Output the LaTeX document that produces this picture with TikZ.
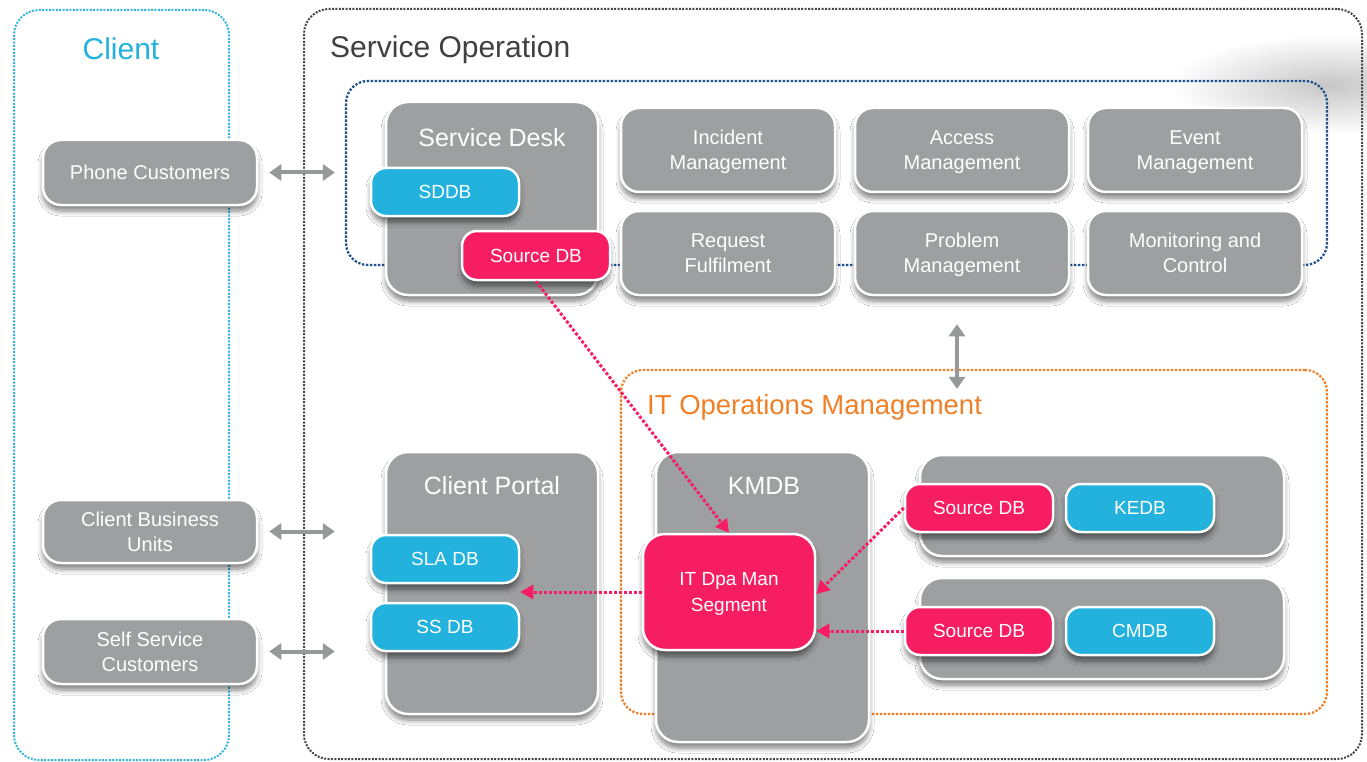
\documentclass[tikz,border=0pt]{standalone}
\usepackage{fontspec}
\setmainfont{Liberation Sans}
\usetikzlibrary{arrows.meta,shadows.blur}
\definecolor{boxgray}{RGB}{157,159,160}
\definecolor{dbcyan}{RGB}{35,178,221}
\definecolor{dbpink}{RGB}{246,29,98}
\definecolor{orangeframe}{RGB}{240,128,40}
\definecolor{blueframe}{RGB}{30,80,140}
\definecolor{grayframe}{RGB}{70,70,70}
\definecolor{cyanframe}{RGB}{50,182,222}
\definecolor{titlegray}{RGB}{64,64,64}
\definecolor{arrgray}{RGB}{150,152,153}
\begin{document}
\begin{tikzpicture}[x=1pt,y=-1pt,
 box/.style={rounded corners=18pt, draw=white, line width=2.5pt,
   blur shadow={shadow xshift=0pt,shadow yshift=-6pt,shadow opacity=50,shadow blur radius=5pt,shadow blur steps=8},
   text=white, align=center, inner sep=0pt, text depth=0pt},
 gbox/.style={box, fill=boxgray, font=\fontsize{20}{25}\selectfont, minimum width=214pt, minimum height=84pt},
 dbbox/.style={box, rounded corners=15pt, font=\fontsize{19}{23}\selectfont, minimum width=148pt, minimum height=48pt},
 cdb/.style={dbbox, fill=dbcyan},
 pdb/.style={dbbox, fill=dbpink},
 cont/.style={box, fill=boxgray, rounded corners=22pt},
 ctitle/.style={text=white, font=\fontsize{25}{30}\selectfont, inner sep=0pt},
 grpframe/.style={rounded corners=25pt, line width=2pt, dash pattern=on 2pt off 1.4pt, inner sep=0pt},
 garrow/.style={draw=arrgray, line width=4pt, {Triangle[length=12pt,width=16pt]}-{Triangle[length=12pt,width=16pt]}},
 parrow/.style={draw=dbpink, line width=3pt, dash pattern=on 3pt off 2pt, -{Triangle[length=13pt,width=14pt]}},
]
\useasboundingbox[fill=white] (0,0) rectangle (1367,762);

% soft gray haze at top right
\shade[inner color=black!22, outer color=white] (1330,85) ellipse [x radius=160pt, y radius=50pt];

% frames
\node[grpframe, draw=cyanframe, minimum width=215pt, minimum height=750pt] (client) at (121.5,385) {};
\node[grpframe, draw=grayframe, minimum width=1058pt, minimum height=750pt] (serviceop) at (833,384) {};
\node[grpframe, draw=blueframe, line width=2.3pt, dash pattern=on 2.3pt off 1.7pt, minimum width=981pt, minimum height=184pt, rounded corners=22pt] (blue) at (836.5,173) {};
\node[grpframe, draw=orangeframe, line width=2.3pt, dash pattern=on 2.3pt off 1.7pt, minimum width=706pt, minimum height=344pt, rounded corners=22pt] (itom) at (974,542) {};

% titles
\node[text=dbcyan, font=\fontsize{30}{36}\selectfont, inner sep=0pt] (clienttitle) at (121,49) {Client};
\node[text=titlegray, font=\fontsize{30}{36}\selectfont, inner sep=0pt, anchor=west] (sotitle) at (330,50) {Service Operation};
\node[text=orangeframe, font=\fontsize{27.5}{33}\selectfont, inner sep=0pt, anchor=west] (itomtitle) at (647,407) {IT Operations Management};

% client side
\node[gbox, minimum height=65pt] (phone) at (150,172.5) {Phone Customers};
\node[gbox, minimum height=63pt] (cbu) at (150,531.5) {Client Business\\Units};
\node[gbox, minimum height=65pt] (ssc) at (150,651.5) {Self Service\\Customers};

% service desk
\node[cont, minimum width=212pt, minimum height=193pt] (desk) at (492,198.5) {};
\node[ctitle] (desktitle) at (492,138) {Service Desk};
\node[cdb] (sddb) at (445,192) {SDDB};
\node[pdb, minimum height=49pt] (srcA) at (536,255.5) {Source DB};

% processes
\node[gbox] (incident) at (728,150) {Incident\\Management};
\node[gbox] (access) at (962,150) {Access\\Management};
\node[gbox] (event) at (1195,150) {Event\\Management};
\node[gbox] (request) at (728,253) {Request\\Fulfilment};
\node[gbox] (problem) at (962,253) {Problem\\Management};
\node[gbox] (monitor) at (1195,253) {Monitoring and\\Control};

% client portal
\node[cont, minimum width=212pt, minimum height=262pt] (portal) at (492,583) {};
\node[ctitle] (portaltitle) at (492,486) {Client Portal};
\node[cdb] (sla) at (445,559) {SLA DB};
\node[cdb] (ssdb) at (445,627) {SS DB};

% KMDB
\node[cont, minimum width=213pt, minimum height=290pt] (kmdb) at (762.5,597) {};
\node[ctitle] (kmdbtitle) at (764,486) {KMDB};
\node[box, fill=dbpink, rounded corners=22pt, minimum width=172pt, minimum height=116pt, font=\fontsize{19}{26}\selectfont] (itdpa) at (729,592) {IT Dpa Man\\Segment};

% KEDB / CMDB rows
\node[cont, minimum width=364pt, minimum height=101pt] (rowA) at (1102,505.5) {};
\node[pdb] (srcB) at (979,508) {Source DB};
\node[cdb] (kedb) at (1140,508) {KEDB};
\node[cont, minimum width=364pt, minimum height=101pt] (rowB) at (1102,628.5) {};
\node[pdb] (srcC) at (979,631) {Source DB};
\node[cdb] (cmdb) at (1140,631) {CMDB};

% gray arrows
\draw[garrow, shorten <=11pt, shorten >=10pt] (phone.east) -- (phone.east -| blue.west);
\draw[garrow, shorten <=11pt, shorten >=50pt] (cbu.east) -- (cbu.east -| portal.west);
\draw[garrow, shorten <=11pt, shorten >=50pt] (ssc.east) -- (ssc.east -| portal.west);
\draw[garrow] ([xshift=-5pt,yshift=-28pt]problem.south) -- ([xshift=-5pt,yshift=-20pt]problem.south |- itom.north);

% pink arrows
\draw[parrow] (srcA.south) -- (itdpa.north);
\draw[parrow] (itdpa.west) -- (itdpa.west -| sla.east);
\draw[parrow] (srcB.west) -- ([yshift=-2pt]itdpa.east);
\draw[parrow] (srcC.west) -- (srcC.west -| itdpa.east);
\end{tikzpicture}
\end{document}
